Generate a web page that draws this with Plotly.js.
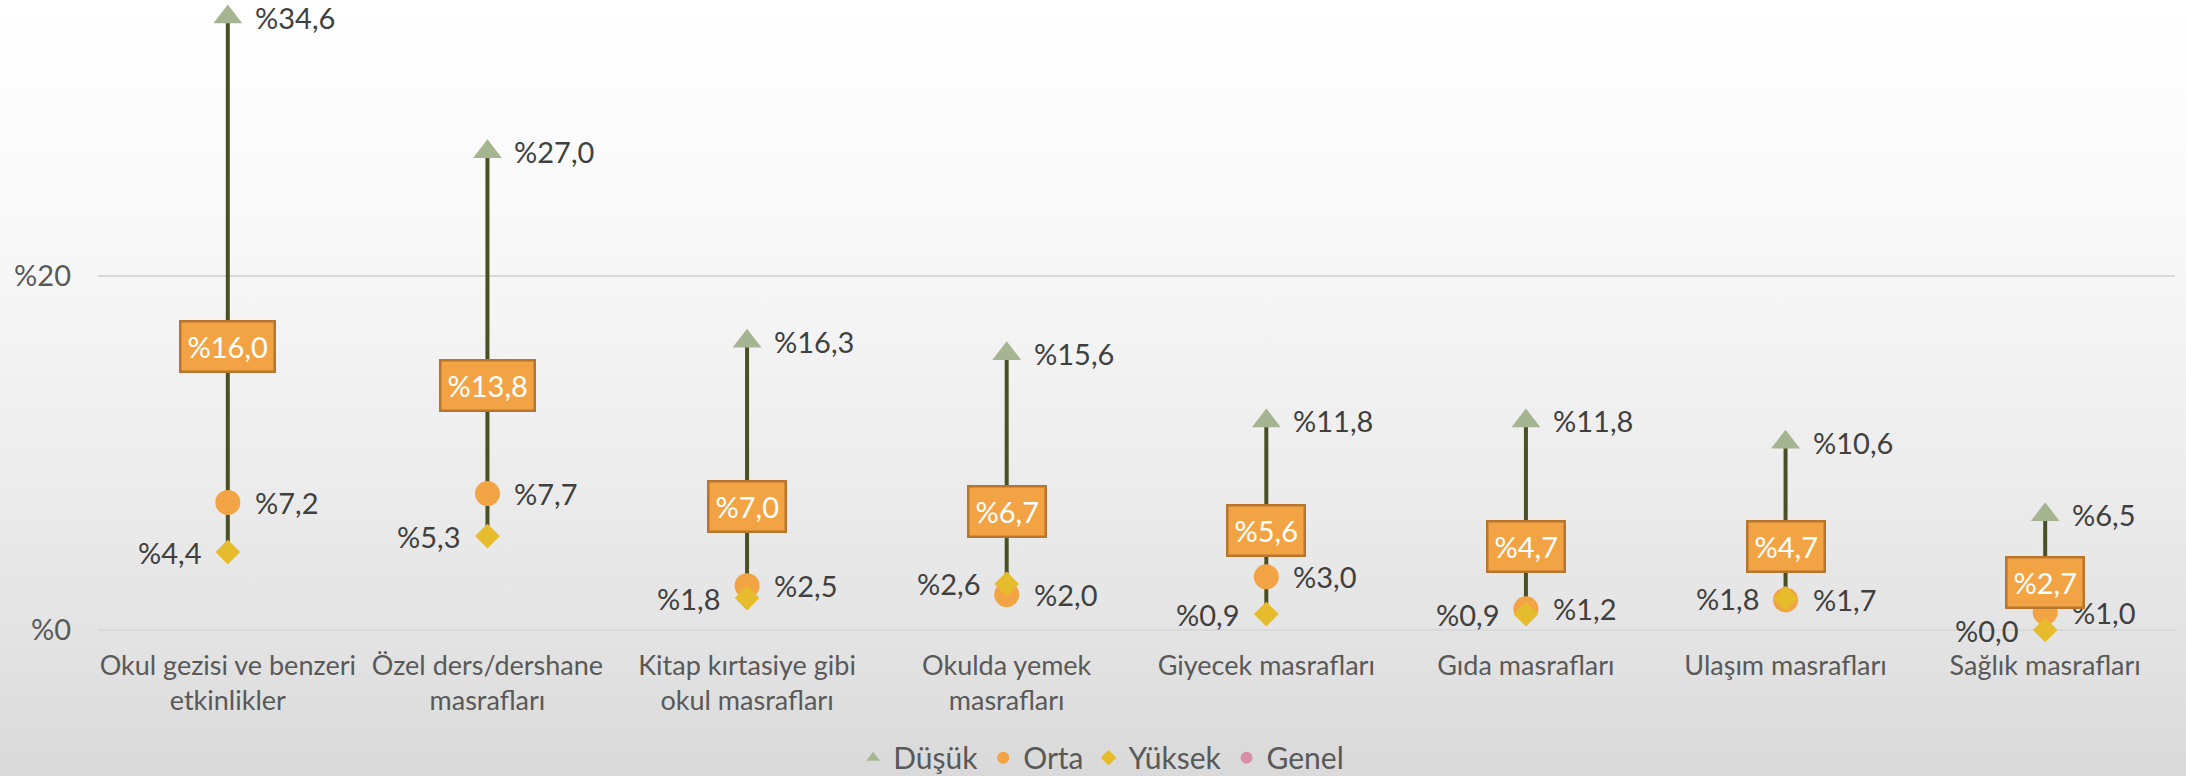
<!DOCTYPE html>
<html><head><meta charset="utf-8">
<script src="https://cdn.plot.ly/plotly-3.0.1.min.js"></script>
<style>
html,body{margin:0;padding:0;}
body{width:2186px;height:776px;overflow:hidden;background:linear-gradient(to bottom,#ffffff 0%,#f7f7f7 35%,#e4e4e4 81%,#d9d9d9 100%);}
#chart{width:2186px;height:776px;}
</style></head><body><div id="chart"></div>
<script>
const categories = [
  'Okul gezisi ve benzeri<br>etkinlikler',
  'Özel ders/dershane<br>masrafları',
  'Kitap kırtasiye gibi<br>okul masrafları',
  'Okulda yemek<br>masrafları',
  'Giyecek masrafları',
  'Gıda masrafları',
  'Ulaşım masrafları',
  'Sağlık masrafları'
];
const dusuk  = [34.6, 27.0, 16.3, 15.6, 11.8, 11.8, 10.6, 6.5];
const orta   = [7.2, 7.7, 2.5, 2.0, 3.0, 1.2, 1.7, 1.0];
const yuksek = [4.4, 5.3, 1.8, 2.6, 0.9, 0.9, 1.8, 0.0];
const genel  = [16.0, 13.8, 7.0, 6.7, 5.6, 4.7, 4.7, 2.7];
const seriesNames = ['Düşük', 'Orta', 'Yüksek', 'Genel'];
const yTickVals = [0, 20];
const yTickText = ['%0', '%20'];

const FONT = 'Lato, "Open Sans", sans-serif';
const fmt = v => '%' + v.toFixed(1).replace('.', ',');

// high-low line from min to max of each category
const lx = [], ly = [];
categories.forEach((c, i) => {
  const vals = [dusuk[i], orta[i], yuksek[i], genel[i]];
  lx.push(c, c, null);
  ly.push(Math.min(...vals), Math.max(...vals), null);
});

const traces = [
  {x: lx, y: ly, mode: 'lines', line: {color: '#4A5024', width: 4}, showlegend: false, hoverinfo: 'skip', cliponaxis: false},
  {x: categories, y: dusuk, name: seriesNames[0], mode: 'markers', cliponaxis: false,
   marker: {symbol: 'triangle-up', size: 25, color: '#A5B592'}},
  {x: categories, y: orta, name: seriesNames[1], mode: 'markers', cliponaxis: false,
   marker: {symbol: 'circle', size: 25, color: '#F2A444'}},
  {x: categories, y: yuksek, name: seriesNames[2], mode: 'markers', cliponaxis: false,
   marker: {symbol: 'diamond', size: 19, color: '#E6BB2C'}},
  {x: categories, y: genel, name: seriesNames[3], mode: 'markers', cliponaxis: false,
   marker: {symbol: 'circle', size: 18, color: '#D88FA6'}}
];

const annotations = [];
const lblFont = {family: FONT, size: 29, color: '#404040'};
categories.forEach((c, i) => {
  annotations.push({x: c, y: dusuk[i], text: fmt(dusuk[i]), showarrow: false, xanchor: 'left', xshift: 25, font: lblFont});
  annotations.push({x: c, y: orta[i], text: fmt(orta[i]), showarrow: false, xanchor: 'left', xshift: 25, font: lblFont});
  annotations.push({x: c, y: yuksek[i], text: fmt(yuksek[i]), showarrow: false, xanchor: 'right', xshift: -25, font: lblFont});
});
categories.forEach((c, i) => {
  annotations.push({x: c, y: genel[i], text: fmt(genel[i]), showarrow: false, xanchor: 'center', yanchor: 'middle',
    bgcolor: '#F2A444', bordercolor: '#B8752E', borderwidth: 2.5, borderpad: 6, height: 36,
    font: {family: FONT, size: 29, color: '#ffffff'}});
});

const layout = {
  width: 2186, height: 776,
  margin: {l: 98, r: 11, t: 10, b: 146, autoexpand: false},
  paper_bgcolor: 'rgba(0,0,0,0)', plot_bgcolor: 'rgba(0,0,0,0)',
  font: {family: FONT, size: 28, color: '#595959'},
  showlegend: true,
  legend: {orientation: 'h', x: 0.483, xanchor: 'center', y: -0.206, yanchor: 'middle',
           font: {family: FONT, size: 30, color: '#595959'}, itemsizing: 'constant', bgcolor: 'rgba(0,0,0,0)'},
  xaxis: {type: 'category', categoryorder: 'array', categoryarray: categories, automargin: false,
          showgrid: false, zeroline: false, showline: false, ticks: '',
          tickfont: {family: FONT, size: 27, color: '#595959'}, ticklabelstandoff: 17, range: [-0.5, 7.5]},
  yaxis: {range: [0, 35], tickvals: yTickVals, ticktext: yTickText, showgrid: true, automargin: false,
          gridcolor: '#D9D9D9', gridwidth: 2, zeroline: true, zerolinecolor: '#D9D9D9', zerolinewidth: 2,
          showline: false, ticks: '', tickfont: {family: FONT, size: 29, color: '#595959'}, ticklabelstandoff: 26},
  annotations: annotations
};

Plotly.newPlot('chart', traces, layout, {displayModeBar: false, staticPlot: true});
</script></body></html>
